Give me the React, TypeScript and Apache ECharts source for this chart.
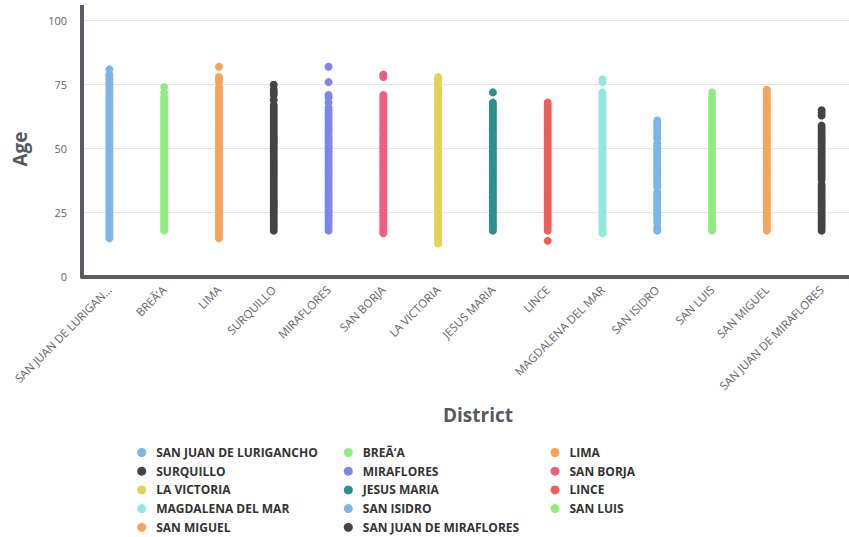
import React, { useEffect, useRef } from "react";
import * as echarts from "echarts";

const categories = [
  "SAN JUAN DE LURIGANCHO",
  "BREÃ‘A",
  "LIMA",
  "SURQUILLO",
  "MIRAFLORES",
  "SAN BORJA",
  "LA VICTORIA",
  "JESUS MARIA",
  "LINCE",
  "MAGDALENA DEL MAR",
  "SAN ISIDRO",
  "SAN LUIS",
  "SAN MIGUEL",
  "SAN JUAN DE MIRAFLORES",
];

const colors = [
  "#7cb5ec", "#90ed7d", "#f7a35c", "#434348", "#8085e9", "#f15c80", "#e4d354",
  "#2b908f", "#f45b5b", "#91e8e1", "#7cb5ec", "#90ed7d", "#f7a35c", "#434348",
];

const yTicks = [0, 25, 50, 75, 100];

const sjlAges = [81,79,78,77,76,75,74,73,72,71,70,69,68,67,66,65,64,63,62,61,60,59,58,57,56,55,54,53,52,51,50,49,48,47,46,45,44,43,42,41,40,39,38,37,36,35,34,33,32,31,30,29,28,27,26,25,24,23,22,21,20,19,18,17,16,15];
const brenaAges = [74,72,70,69,68,67,66,65,64,63,62,61,60,59,58,57,56,55,54,53,52,51,50,49,48,47,46,45,44,43,42,41,40,39,38,37,36,35,34,33,32,31,30,29,28,27,26,25,24,23,22,21,20,19,18];
const limaAges = [82,78,77,76,74,73,72,71,70,69,68,67,66,65,64,63,62,61,60,59,58,57,56,55,54,53,52,51,50,49,48,47,46,45,44,43,42,41,40,39,38,37,36,35,34,33,32,31,30,29,28,27,26,25,24,23,22,21,20,19,18,17,16,15];
const surquilloAges = [75,73,72,71,69,67,66,65,64,63,62,61,60,59,58,57,56,55,54,53,52,51,50,49,48,47,46,45,44,43,42,41,40,39,38,37,36,35,34,33,32,31,30,29,28,27,26,25,24,23,22,21,20,19,18];
const mirafloresAges = [82,76,71,70,68,66,65,64,63,62,61,60,59,58,57,56,55,54,53,52,51,50,49,48,47,46,45,44,43,42,41,40,39,38,37,36,35,34,33,32,31,30,29,28,27,26,25,24,23,22,21,20,19,18];
const sanBorjaAges = [79,78,71,70,69,68,67,66,65,64,63,62,61,60,59,58,57,56,55,54,53,52,51,50,49,48,47,46,45,44,43,42,41,40,39,38,37,36,35,34,33,32,31,30,29,28,27,26,25,24,23,22,21,20,19,18,17];
const laVictoriaAges = [78,77,76,75,74,73,72,71,70,69,68,67,66,65,64,63,62,61,60,59,58,57,56,55,54,53,52,51,50,49,48,47,46,45,44,43,42,41,40,39,38,37,36,35,34,33,32,31,30,29,28,27,26,25,24,23,22,21,20,19,18,17,16,15,14,13];
const jesusMariaAges = [72,68,67,66,65,64,63,62,61,60,59,58,57,56,55,54,53,52,51,50,49,48,47,46,45,44,43,42,41,40,39,38,37,36,35,34,33,32,31,30,29,28,27,26,25,24,23,22,21,20,19,18];
const linceAges = [68,67,66,65,64,63,62,61,60,59,58,57,56,55,54,53,52,51,50,49,48,47,46,45,44,43,42,41,40,39,38,37,36,35,34,33,32,31,30,29,28,27,26,25,24,23,22,21,20,19,18,14];
const magdalenaAges = [77,76,72,71,70,69,68,67,66,65,64,63,62,61,60,59,58,57,56,55,54,53,52,51,50,49,48,47,46,45,44,43,42,41,40,39,38,37,36,35,34,33,32,31,30,29,28,27,26,25,24,23,22,21,20,19,18,17];
const sanIsidroAges = [61,60,59,58,57,56,55,54,52,51,50,49,48,47,46,45,44,43,42,41,40,39,38,37,36,35,33,32,31,30,29,28,27,26,25,24,23,22,21,19,18];
const sanLuisAges = [72,70,69,68,67,66,65,64,63,62,61,60,59,58,57,56,55,54,53,52,51,50,49,48,47,46,45,44,43,42,41,40,39,38,37,36,35,34,33,32,31,30,29,28,27,26,25,24,23,22,21,20,19,18];
const sanMiguelAges = [73,72,71,70,69,68,67,66,65,64,63,62,61,60,59,58,57,56,55,54,53,52,51,50,49,48,47,46,45,44,43,42,41,40,39,38,37,36,35,34,33,32,31,30,29,28,27,26,25,24,23,22,21,20,19,18];
const sjmAges = [65,64,63,59,58,57,56,55,54,53,52,51,50,49,48,47,46,45,44,43,42,41,40,39,38,36,35,34,33,32,31,30,29,28,27,26,25,24,23,22,21,20,19,18];

const agesByDistrict = [
  sjlAges, brenaAges, limaAges, surquilloAges, mirafloresAges, sanBorjaAges, laVictoriaAges,
  jesusMariaAges, linceAges, magdalenaAges, sanIsidroAges, sanLuisAges, sanMiguelAges, sjmAges,
];

const FONT = "'Open Sans', 'Noto Sans', sans-serif";
const AXIS_COLOR = "#595e66";

export default function App() {
  const ref = useRef<HTMLDivElement>(null);

  useEffect(() => {
    if (!ref.current) return;
    const chart = echarts.init(ref.current, null, { renderer: "svg" });

    const legendLefts = [137.2, 343.8, 550.5];
    const legends = legendLefts.map((left, c) => ({
      orient: "vertical",
      left,
      top: 445.5,
      height: 95,
      width: 200,
      padding: 0,
      icon: "circle",
      itemWidth: 9,
      itemHeight: 9,
      itemGap: 4.7,
      selectedMode: false,
      data: categories.filter((_, i) => i % 3 === c),
      textStyle: {
        fontFamily: FONT,
        fontSize: 12,
        fontWeight: "bold",
        color: "#333333",
        lineHeight: 14,
        padding: [0, 0, 0, 5],
      },
    }));

    chart.setOption({
      animation: false,
      backgroundColor: "#ffffff",
      grid: { left: 82, right: 0, top: 20.7, bottom: 260.3, containLabel: false },
      legend: legends,
      xAxis: {
        type: "category",
        data: categories,
        boundaryGap: true,
        axisLine: { show: true, lineStyle: { color: AXIS_COLOR, width: 4 } },
        axisTick: { show: false },
        splitLine: { show: false },
        axisLabel: {
          interval: 0,
          rotate: 45,
          margin: 11,
          fontFamily: FONT,
          fontSize: 11.5,
          color: "#666666",
          formatter: (v: string, i: number) =>
            i === 0 && v.length > 19 ? v.slice(0, 19) + "…" : v,
        },
      },
      yAxis: {
        type: "value",
        min: yTicks[0],
        max: yTicks[yTicks.length - 1],
        interval: 25,
        axisLine: { show: true, lineStyle: { color: AXIS_COLOR, width: 4 } },
        axisTick: { show: false },
        splitLine: { show: true, lineStyle: { color: "#e6e6e6", width: 1 } },
        axisLabel: {
          margin: 15,
          fontFamily: FONT,
          fontSize: 11,
          color: "#666666",
        },
      },
      graphic: [
        {
          type: "rect",
          shape: { x: 80, y: 5, width: 4, height: 17 },
          style: { fill: AXIS_COLOR },
          silent: true,
        },
        {
          type: "text",
          x: 20,
          y: 149,
          rotation: Math.PI / 2,
          style: {
            text: "Age",
            fontFamily: FONT,
            fontSize: 19,
            fontWeight: "bold",
            fill: "#555a62",
            align: "center",
            verticalAlign: "middle",
          },
        },
        {
          type: "text",
          x: 478,
          y: 415,
          style: {
            text: "District",
            fontFamily: FONT,
            fontSize: 19,
            fontWeight: "bold",
            fill: "#555a62",
            align: "center",
            verticalAlign: "middle",
          },
        },
      ],
      series: categories.map((name, i) => ({
        type: "scatter",
        name,
        symbol: "circle",
        symbolSize: 8,
        itemStyle: { color: colors[i], opacity: 1 },
        emphasis: { disabled: true },
        data: agesByDistrict[i].map((a) => [name, a]),
      })),
    });

    return () => chart.dispose();
  }, []);

  return (
    <div
      ref={ref}
      style={{ position: "fixed", left: 0, top: 0, width: 849, height: 537, background: "#fff" }}
    />
  );
}
